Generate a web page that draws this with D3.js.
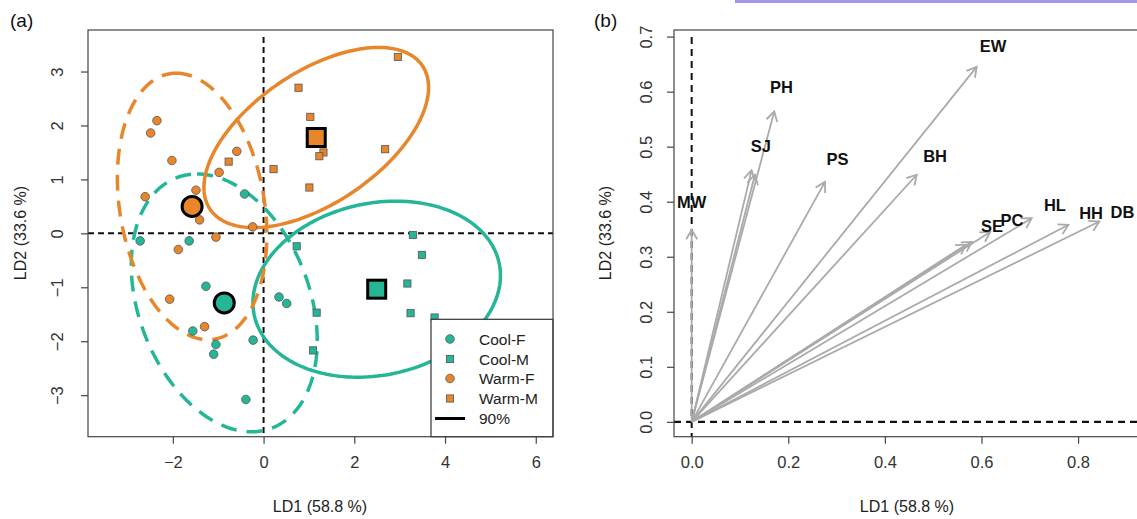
<!DOCTYPE html>
<html>
<head>
<meta charset="utf-8">
<script src="https://cdn.jsdelivr.net/npm/d3@7"></script>
<style>
  body { margin: 0; background: #fff; }
  text { font-family: "Liberation Sans", Arial, Helvetica, sans-serif; }
</style>
</head>
<body>
<svg id="chart" width="1137" height="519"></svg>
<script>
// ---- data, panel (a): discriminant scores ----
var groups = ['Cool-F', 'Cool-M', 'Warm-F', 'Warm-M'];

var coolF_LD1 = [-2.72, -1.64, -0.42, -1.27, -1.56, -1.05, -1.10, -0.23, -0.39, 0.34, 0.51];
var coolF_LD2 = [-0.14, -0.14, 0.73, -0.98, -1.81, -2.06, -2.24, -1.98, -3.08, -1.18, -1.30];

var coolM_LD1 = [3.29, 3.49, 3.17, 3.24, 3.77, 0.73, 1.17, 1.09];
var coolM_LD2 = [-0.03, -0.40, -0.93, -1.48, -1.56, -0.24, -1.47, -2.17];

var warmF_LD1 = [-2.35, -2.49, -2.02, -0.59, -0.98, -2.61, -1.49, -1.41, -0.24, -1.05, -1.88, -2.07, -1.30];
var warmF_LD2 = [2.09, 1.86, 1.35, 1.52, 1.13, 0.68, 0.80, 0.25, 0.12, -0.07, -0.30, -1.22, -1.73];

var warmM_LD1 = [-0.77, 0.22, 0.77, 2.96, 1.03, 1.32, 1.23, 2.68, 1.01];
var warmM_LD2 = [1.33, 1.19, 2.70, 3.27, 2.16, 1.50, 1.43, 1.56, 0.85];

// 90% ellipses: conjugate semi-axes (LD units), centred on group means
var ellipseU = [[-0.60, 2.39], [2.70, 0.48], [-0.35, 2.47], [2.34, 1.33]];
var ellipseV = [[1.96, 0.00], [0.39, -1.56], [1.61, 0.00], [0.81, -1.01]];

var xTicksA = [-2, 0, 2, 4, 6];
var yTicksA = [-3, -2, -1, 0, 1, 2, 3];

// ---- data, panel (b): loadings ----
var arrowLD1 = [0.000, 0.124, 0.131, 0.171, 0.276, 0.590, 0.466, 0.568, 0.580, 0.618, 0.704, 0.780, 0.844];
var arrowLD2 = [0.349, 0.457, 0.449, 0.564, 0.436, 0.645, 0.449, 0.322, 0.327, 0.345, 0.370, 0.358, 0.364];

var varNames = ['MW', 'SJ', 'PH', 'PS', 'EW', 'BH', 'SE', 'PC', 'HL', 'HH', 'DB'];
var nameLD1  = [0.000, 0.143, 0.186, 0.302, 0.624, 0.504, 0.622, 0.663, 0.752, 0.827, 0.892];
var nameLD2  = [0.400, 0.502, 0.608, 0.477, 0.683, 0.483, 0.355, 0.366, 0.394, 0.379, 0.382];

var xTicksB = [0.0, 0.2, 0.4, 0.6, 0.8];
var yTicksB = [0.0, 0.1, 0.2, 0.3, 0.4, 0.5, 0.6, 0.7];

// ---- styling ----
var teal = '#25b697', orange = '#e8862b';
var groupColor = [teal, teal, orange, orange];
var groupShape = ['circle', 'square', 'circle', 'square'];
var groupDash = ['16,10', null, '16,10', null];

var scores = [
  {x: coolF_LD1, y: coolF_LD2},
  {x: coolM_LD1, y: coolM_LD2},
  {x: warmF_LD1, y: warmF_LD2},
  {x: warmM_LD1, y: warmM_LD2}
];

var svg = d3.select('#chart');
svg.append('rect').attr('width', 1137).attr('height', 519).attr('fill', '#fff');
svg.append('rect').attr('x', 735).attr('y', 0).attr('width', 402).attr('height', 3).attr('fill', '#a894ef');

function symbol(g, shape, cx, cy, size, fill, stroke, sw) {
  if (shape === 'circle') {
    g.append('circle').attr('cx', cx).attr('cy', cy).attr('r', size)
      .attr('fill', fill).attr('stroke', stroke).attr('stroke-width', sw);
  } else {
    g.append('rect').attr('x', cx - size).attr('y', cy - size)
      .attr('width', size * 2).attr('height', size * 2)
      .attr('fill', fill).attr('stroke', stroke).attr('stroke-width', sw);
  }
}

function drawAxes(x, y, xt, yt, fmt, yOff) {
  var x0 = x.range()[0], y0 = y.range()[0], y1 = y.range()[1];
  var ax = svg.append('g').attr('transform', 'translate(0,' + y0 + ')')
    .call(d3.axisBottom(x).tickValues(xt).tickSize(7).tickPadding(13).tickFormat(fmt));
  var ay = svg.append('g').attr('transform', 'translate(' + x0 + ',0)')
    .call(d3.axisLeft(y).tickValues(yt).tickSize(7).tickFormat(fmt));
  [ax, ay].forEach(function(a) {
    a.select('.domain').remove();
    a.selectAll('line').attr('stroke', '#444').attr('stroke-width', 1.2);
    a.selectAll('text').attr('fill', '#333').style('font-size', '16.5px');
  });
  ay.selectAll('text')
    .attr('x', 0).attr('dy', 0).attr('y', -yOff)
    .attr('text-anchor', 'middle')
    .attr('transform', 'rotate(-90)');
  svg.append('rect')
    .attr('x', x0).attr('y', y1)
    .attr('width', x.range()[1] - x0).attr('height', y0 - y1)
    .attr('fill', 'none').attr('stroke', '#444').attr('stroke-width', 1.2);
}

function titles(cx, cy, yx, tag, tagx) {
  svg.append('text').attr('x', cx).attr('y', 512).attr('text-anchor', 'middle')
    .style('font-size', '16px').attr('fill', '#222').text('LD1 (58.8 %)');
  svg.append('text').attr('transform', 'translate(' + yx + ',' + cy + ') rotate(-90)')
    .attr('text-anchor', 'middle').attr('dy', '0.35em')
    .style('font-size', '16px').attr('fill', '#222').text('LD2 (33.6 %)');
  svg.append('text').attr('x', tagx).attr('y', 27)
    .style('font-size', '19px').attr('fill', '#111').text(tag);
}

// ================= panel (a) =================
var xA = d3.scaleLinear().domain([-3.87, 6.38]).range([88, 553]);
var yA = d3.scaleLinear().domain([-3.77, 3.77]).range([436.7, 30]);

svg.append('clipPath').attr('id', 'clipA').append('rect')
  .attr('x', 88).attr('y', 30).attr('width', 465).attr('height', 406.7);
var gA = svg.append('g').attr('clip-path', 'url(#clipA)');

gA.append('line').attr('x1', xA(0)).attr('x2', xA(0)).attr('y1', 37).attr('y2', 436.7)
  .attr('stroke', '#111').attr('stroke-width', 2).attr('stroke-dasharray', '6,4');
gA.append('line').attr('x1', 88).attr('x2', 553).attr('y1', yA(0)).attr('y2', yA(0))
  .attr('stroke', '#111').attr('stroke-width', 2).attr('stroke-dasharray', '6,4');

var centroids = scores.map(function(s) { return [d3.mean(s.x), d3.mean(s.y)]; });

var ellLine = d3.line()
  .x(function(d) { return xA(d[0]); })
  .y(function(d) { return yA(d[1]); })
  .curve(d3.curveLinearClosed);

groups.forEach(function(g, i) {
  var c = centroids[i], u = ellipseU[i], v = ellipseV[i];
  var pts = d3.range(0, 180).map(function(k) {
    var t = k / 180 * 2 * Math.PI;
    return [c[0] + u[0] * Math.cos(t) + v[0] * Math.sin(t),
            c[1] + u[1] * Math.cos(t) + v[1] * Math.sin(t)];
  });
  gA.append('path').attr('d', ellLine(pts))
    .attr('fill', 'none').attr('stroke', groupColor[i]).attr('stroke-width', 3.5)
    .attr('stroke-dasharray', groupDash[i]);
});

groups.forEach(function(g, i) {
  var s = scores[i];
  s.x.forEach(function(xv, k) {
    symbol(gA, groupShape[i], xA(xv), yA(s.y[k]), groupShape[i] === 'circle' ? 4.3 : 3.6,
      groupColor[i], '#555', 0.8);
  });
});

groups.forEach(function(g, i) {
  var c = centroids[i];
  symbol(gA, groupShape[i], xA(c[0]), yA(c[1]), groupShape[i] === 'circle' ? 10 : 9,
    groupColor[i], '#000', 3);
});

// legend
var lg = svg.append('g');
lg.append('rect').attr('x', 431).attr('y', 319.3).attr('width', 122).attr('height', 117.4)
  .attr('fill', '#fff').attr('stroke', '#333').attr('stroke-width', 1.2);
var legendRows = [339, 359, 378.5, 398.5, 418.5];
groups.forEach(function(g, i) {
  symbol(lg, groupShape[i], 450, legendRows[i], groupShape[i] === 'circle' ? 4.3 : 3.6,
    groupColor[i], '#555', 0.8);
  lg.append('text').attr('x', 479).attr('y', legendRows[i]).attr('dy', '0.36em')
    .style('font-size', '15.5px').attr('fill', '#222').text(g);
});
lg.append('line').attr('x1', 435).attr('x2', 465).attr('y1', legendRows[4]).attr('y2', legendRows[4])
  .attr('stroke', '#000').attr('stroke-width', 3);
lg.append('text').attr('x', 479).attr('y', legendRows[4]).attr('dy', '0.36em')
  .style('font-size', '15.5px').attr('fill', '#222').text('90%');

drawAxes(xA, yA, xTicksA, yTicksA, d3.format('d'), 25);
titles(320, 233, 20, '(a)', 10);

// ================= panel (b) =================
var xB = d3.scaleLinear().domain([-0.0366, 0.94]).range([674, 1145.7]);
var yB = d3.scaleLinear().domain([-0.027, 0.712]).range([436.7, 30]);

var gB = svg.append('g');
gB.append('line').attr('x1', xB(0)).attr('x2', xB(0)).attr('y1', 37).attr('y2', 436.7)
  .attr('stroke', '#111').attr('stroke-width', 2).attr('stroke-dasharray', '7,5');
gB.append('line').attr('x1', 674).attr('x2', 1137).attr('y1', yB(0)).attr('y2', yB(0))
  .attr('stroke', '#111').attr('stroke-width', 2.2).attr('stroke-dasharray', '7,5');

var ox = xB(0), oy = yB(0);
arrowLD1.forEach(function(a, i) {
  var tx = xB(a), ty = yB(arrowLD2[i]);
  var ang = Math.atan2(ty - oy, tx - ox), len = 11, spread = Math.PI / 6;
  var head = 'M' + (tx - len * Math.cos(ang - spread)) + ',' + (ty - len * Math.sin(ang - spread)) +
    'L' + tx + ',' + ty +
    'L' + (tx - len * Math.cos(ang + spread)) + ',' + (ty - len * Math.sin(ang + spread));
  gB.append('line').attr('x1', ox).attr('y1', oy).attr('x2', tx).attr('y2', ty)
    .attr('stroke', '#aaa').attr('stroke-width', 1.8);
  gB.append('path').attr('d', head).attr('fill', 'none')
    .attr('stroke', '#aaa').attr('stroke-width', 1.8);
});

varNames.forEach(function(n, i) {
  gB.append('text').attr('x', xB(nameLD1[i])).attr('y', yB(nameLD2[i]))
    .attr('dy', '0.36em').attr('text-anchor', 'middle')
    .style('font-size', '16.5px').style('font-weight', 'bold').attr('fill', '#111').text(n);
});

drawAxes(xB, yB, xTicksB, yTicksB, d3.format('.1f'), 22);
titles(907, 233, 605, '(b)', 594);
</script>
</body>
</html>
